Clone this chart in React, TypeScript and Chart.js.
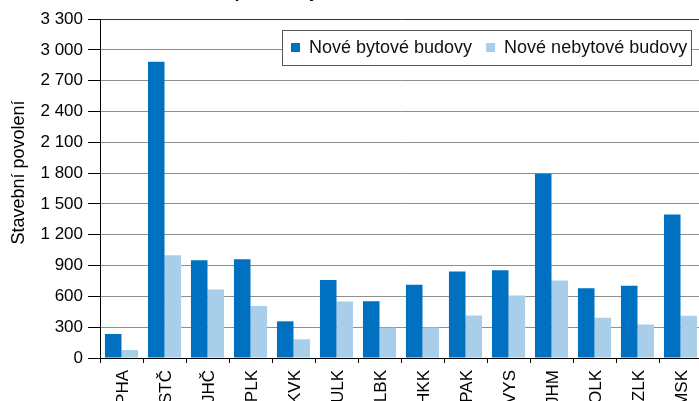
import { useEffect, useRef } from "react";
import { Chart, registerables } from "chart.js";

Chart.register(...registerables);

const categories = ["PHA", "STČ", "JHČ", "PLK", "KVK", "ULK", "LBK", "HKK", "PAK", "VYS", "JHM", "OLK", "ZLK", "MSK"];
const residential = [234, 2885, 951, 961, 357, 760, 552, 713, 842, 855, 1794, 680, 703, 1398];
const nonResidential = [78, 1000, 666, 506, 182, 549, 295, 297, 414, 609, 755, 392, 326, 411];
const seriesLabels = ["Nové bytové budovy", "Nové nebytové budovy"];
const seriesColors = ["#0070C0", "#A9CEE9"];
const yAxisTitle = "Stavební povolení";
const chartTitle = "podle krajů v 1. čtvrtletí 2024";
const yMin = 0;
const yMax = 3300;
const yStep = 300;

const FONT = "'Liberation Sans', Arial, Helvetica, sans-serif";
const CANVAS_W = 720;
const CANVAS_H = 448;
const SHIFT_Y = 30;

const fmt = (v: number) => String(v).replace(/\B(?=(\d{3})+(?!\d))/g, " ");

const boxLegend = {
  id: "boxLegend",
  afterDatasetsDraw(chart: any) {
    const { ctx, chartArea } = chart;
    const ds = chart.data.datasets;
    ctx.save();
    ctx.font = `18px ${FONT}`;
    const widths = ds.map((d: any) => ctx.measureText(d.label).width);
    const pad = 9, marker = 9, markerGap = 9, itemGap = 14, rightPad = 4;
    let total = pad + rightPad + itemGap * (ds.length - 1);
    widths.forEach((w: number) => (total += marker + markerGap + w));
    const right = chartArea.right - 11;
    const left = Math.round(right - total);
    const top = Math.round(chartArea.top + 11);
    const h = 35;
    ctx.fillStyle = "#fff";
    ctx.fillRect(left, top, right - left, h);
    ctx.strokeStyle = "#555";
    ctx.lineWidth = 1;
    ctx.strokeRect(left + 0.5, top + 0.5, right - left, h);
    let x = left + pad;
    const cy = top + h / 2;
    ctx.textBaseline = "middle";
    ctx.textAlign = "left";
    ds.forEach((d: any, i: number) => {
      ctx.fillStyle = d.backgroundColor;
      ctx.fillRect(x, Math.round(cy - marker / 2), marker, marker);
      x += marker + markerGap;
      ctx.fillStyle = "#111";
      ctx.fillText(d.label, x, cy + 1);
      x += widths[i] + itemGap;
    });
    ctx.restore();
  },
};

const yTitlePlugin = {
  id: "yTitle",
  afterDraw(chart: any) {
    const { ctx, chartArea } = chart;
    ctx.save();
    ctx.font = `18px ${FONT}`;
    ctx.fillStyle = "#000";
    ctx.textAlign = "center";
    ctx.textBaseline = "middle";
    ctx.translate(19, (chartArea.top + chartArea.bottom) / 2 - 16);
    ctx.rotate(-Math.PI / 2);
    ctx.fillText(yAxisTitle, 0, 0);
    ctx.restore();
  },
};

export default function App() {
  const ref = useRef<HTMLCanvasElement>(null);
  useEffect(() => {
    if (!ref.current) return;
    Chart.defaults.font.family = FONT;
    Chart.defaults.font.size = 17;
    Chart.defaults.color = "#000";
    const chart = new Chart(ref.current, {
      type: "bar",
      data: {
        labels: categories,
        datasets: [
          { label: seriesLabels[0], data: residential, backgroundColor: seriesColors[0] },
          { label: seriesLabels[1], data: nonResidential, backgroundColor: seriesColors[1] },
        ],
      },
      options: {
        animation: false,
        responsive: false,
        devicePixelRatio: 1,
        layout: { padding: { left: 0, right: 18, top: 0, bottom: 0 } },
        datasets: { bar: { categoryPercentage: 0.77, barPercentage: 1.0 } },
        plugins: {
          legend: { display: false },
          tooltip: { enabled: false },
          title: {
            display: true,
            text: chartTitle,
            color: "#000",
            font: { size: 17, weight: "bold", family: FONT },
            padding: { top: 12.8, bottom: 15.8 },
          },
        },
        scales: {
          x: {
            afterFit: (s: any) => { s.height = 60; },
            grid: { drawOnChartArea: false, drawTicks: true, tickLength: 5, tickColor: "#000", offset: true },
            border: { color: "#000", width: 1 },
            ticks: { minRotation: 90, maxRotation: 90, padding: 7, labelOffset: 2, color: "#000", font: { size: 17 }, autoSkip: false },
          },
          y: {
            min: yMin,
            max: yMax,
            afterFit: (s: any) => { s.width = 100; },
            grid: {
              color: (c: any) => (c.tick && c.tick.value === yMax ? "#333" : "#8f8f8f"),
              tickColor: "#000",
              tickLength: 12,
              drawTicks: true,
            },
            border: { color: "#000", width: 1 },
            ticks: { stepSize: yStep, padding: 5, color: "#000", font: { size: 17 }, callback: (v: any) => fmt(Number(v)) },
            title: { display: false },
          },
        },
      },
      plugins: [boxLegend, yTitlePlugin],
    } as any);
    return () => chart.destroy();
  }, []);
  return (
    <div style={{ position: "fixed", left: 0, top: 0, width: 699, height: 401, overflow: "hidden", background: "#fff" }}>
      <div style={{ position: "absolute", left: 0, top: -SHIFT_Y, width: CANVAS_W, height: CANVAS_H }}>
        <canvas ref={ref} width={CANVAS_W} height={CANVAS_H} />
      </div>
    </div>
  );
}
